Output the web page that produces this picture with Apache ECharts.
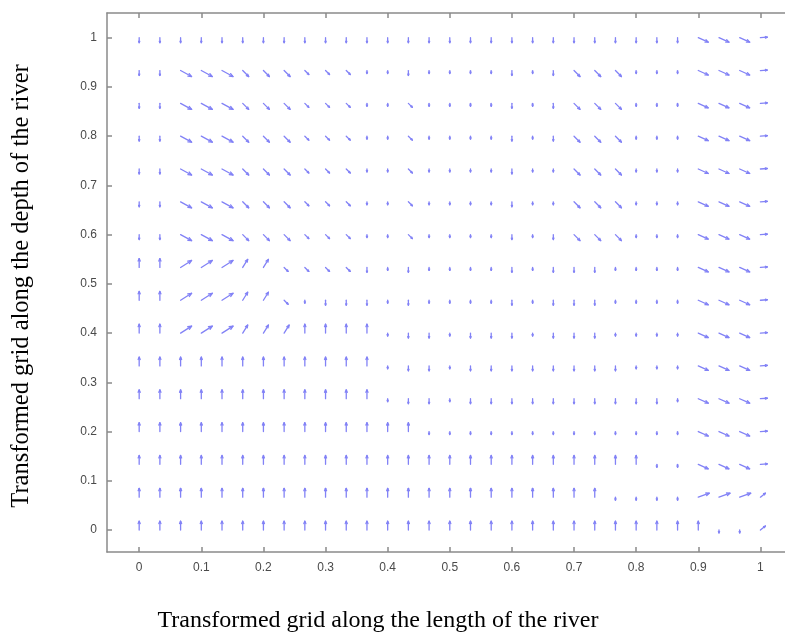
<!DOCTYPE html>
<html>
<head>
<meta charset="utf-8">
<script src="https://cdn.jsdelivr.net/npm/echarts@6/dist/echarts.min.js"></script>
<style>
  html, body { margin: 0; padding: 0; background: #fff; }
  #chart { width: 785px; height: 635px; }
</style>
</head>
<body>
<div id="chart"></div>
<script>
// Malla transformada: 31 columnas (largo) x 16 filas (profundidad)
const xValues = Array.from({ length: 31 }, (_, i) => i / 30);
const yValues = Array.from({ length: 16 }, (_, j) => j / 15);

// Marcas de los ejes
const tickValues = [0, 0.1, 0.2, 0.3, 0.4, 0.5, 0.6, 0.7, 0.8, 0.9, 1];

// Tipos de flecha: [u, v] en unidades de datos
const arrowKinds = {
    V: [0, 0.018],        // vertical hacia arriba
    v: [0, 0.010],        // vertical corta hacia arriba
    w: [0, -0.010],       // vertical corta hacia abajo
    n: [0, -0.006],       // punto muy corto
    D: [0.0177, -0.0122], // diagonal larga hacia abajo
    d: [0.0096, -0.0122], // diagonal media hacia abajo
    s: [0.0064, -0.0081], // diagonal corta hacia abajo
    E: [0.016, -0.0091],  // borde derecho, hacia abajo
    R: [0.0112, 0.001],   // horizontal en el borde
    U: [0.0177, 0.0142],  // diagonal larga hacia arriba
    u: [0.008, 0.0163],   // diagonal empinada hacia arriba
    Q: [0.0177, 0.0081],  // diagonal plana hacia arriba
    q: [0.008, 0.0081]    // diagonal corta hacia arriba
};

// Una cadena por fila, de arriba (y = 1) hacia abajo (y = 0)
const rowCodes = [
    'wwwwwwwwwwwwwwwwwwwwwwwwwwwEEER',
    'wwDDDdddsssnnwnnnnwnwdddnnnEEER',
    'wwDDDdddsssnnsnnnnwnwdddnnnEEER',
    'wwDDDdddsssnnsnnnnwnwdddnnnEEER',
    'wwDDDdddsssnnsnnnnwnndddnnnEEER',
    'wwDDDdddsssnnsnnnnwnndddnnnEEER',
    'wwDDDdddsssnnsnnnnwnwdddnnnEEER',
    'VVUUUuusssswnwnnnnwnwwwnnnnEEER',
    'VVUUUuusnwwwnwnnnnwnwwwnnnnEEER',
    'VVUUUuuuVVVVnwwnwwwnwwwnnnnEEER',
    'VVVVVVVVVVVVnwwnwwwwwwwwnnnEEER',
    'VVVVVVVVVVVVnwwnwwwwwwwwwwnEEER',
    'VVVVVVVVVVVVVVnnnnnnnnnnnnnEEER',
    'VVVVVVVVVVVVVVVVVVVVVVVVVnnEEER',
    'VVVVVVVVVVVVVVVVVVVVVVVnnnnQQQq',
    'VVVVVVVVVVVVVVVVVVVVVVVVVVVVnnq'
];

// Construir los datos [x, y, u, v]
const arrowData = [];
rowCodes.forEach((row, r) => {
    const y = yValues[yValues.length - 1 - r];
    row.split('').forEach((code, c) => {
        const [u, v] = arrowKinds[code];
        arrowData.push([xValues[c], y, u, v]);
    });
});

const arrowColor = '#8282f6';
const axisColor = '#8a8a8a';
const labelFmt = val => String(+val.toFixed(1));

// Dibujar cada flecha (cola en el punto de la malla)
function renderArrow(params, api) {
    const x = api.value(0), y = api.value(1);
    const u = api.value(2), v = api.value(3);
    const p0 = api.coord([x, y]);
    const p1 = api.coord([x + u, y + v]);
    const dx = p1[0] - p0[0], dy = p1[1] - p0[1];
    const len = Math.sqrt(dx * dx + dy * dy);
    const ang = Math.atan2(dy, dx);
    const h = Math.max(1.5, len * 0.3);
    const a = 0.4;
    const left = [p1[0] - h * Math.cos(ang - a), p1[1] - h * Math.sin(ang - a)];
    const right = [p1[0] - h * Math.cos(ang + a), p1[1] - h * Math.sin(ang + a)];
    const style = { stroke: arrowColor, lineWidth: 1.3, fill: null, lineCap: 'round', lineJoin: 'round' };
    return {
        type: 'group',
        children: [
            { type: 'line', shape: { x1: p0[0], y1: p0[1], x2: p1[0], y2: p1[1] }, style: style },
            { type: 'polyline', shape: { points: [left, p1, right] }, style: style }
        ]
    };
}

const chart = echarts.init(document.getElementById('chart'));

const baseX = {
    type: 'value',
    min: -0.0518,
    max: 1.0396,
    splitLine: { show: false },
    axisLine: { onZero: false, lineStyle: { color: axisColor, width: 1.5 } },
    axisTick: { inside: true, length: 5, customValues: tickValues, lineStyle: { color: axisColor, width: 1.5 } }
};
const baseY = {
    type: 'value',
    min: -0.0447,
    max: 1.0502,
    splitLine: { show: false },
    axisLine: { onZero: false, lineStyle: { color: axisColor, width: 1.5 } },
    axisTick: { inside: true, length: 5, customValues: tickValues, lineStyle: { color: axisColor, width: 1.5 } }
};

const option = {
    animation: false,
    backgroundColor: '#ffffff',
    grid: { left: 107, top: 13, width: 680, height: 539 },
    xAxis: [
        Object.assign({}, baseX, {
            position: 'bottom',
            axisLabel: {
                customValues: tickValues, formatter: labelFmt, margin: 10,
                color: '#4a4a4a', fontFamily: 'Liberation Sans', fontSize: 12
            }
        }),
        Object.assign({}, baseX, { position: 'top', axisLabel: { show: false } })
    ],
    yAxis: [
        Object.assign({}, baseY, {
            position: 'left',
            axisLabel: {
                customValues: tickValues, formatter: labelFmt, margin: 10,
                color: '#4a4a4a', fontFamily: 'Liberation Sans', fontSize: 12
            }
        })
    ],
    graphic: [
        {
            type: 'text', x: 378, y: 621,
            style: {
                text: 'Transformed grid along the length of the river',
                fontFamily: 'Liberation Serif', fontSize: 24, fill: '#000',
                align: 'center', verticalAlign: 'middle'
            }
        },
        {
            type: 'text', x: 22, y: 286, rotation: Math.PI / 2,
            style: {
                text: 'Transformed grid along the depth of the river',
                fontFamily: 'Liberation Serif', fontSize: 24.5, fill: '#000',
                align: 'center', verticalAlign: 'middle'
            }
        }
    ],
    series: [
        {
            type: 'custom',
            renderItem: renderArrow,
            encode: { x: 0, y: 1 },
            clip: false,
            data: arrowData
        }
    ]
};

chart.setOption(option);
</script>
</body>
</html>
